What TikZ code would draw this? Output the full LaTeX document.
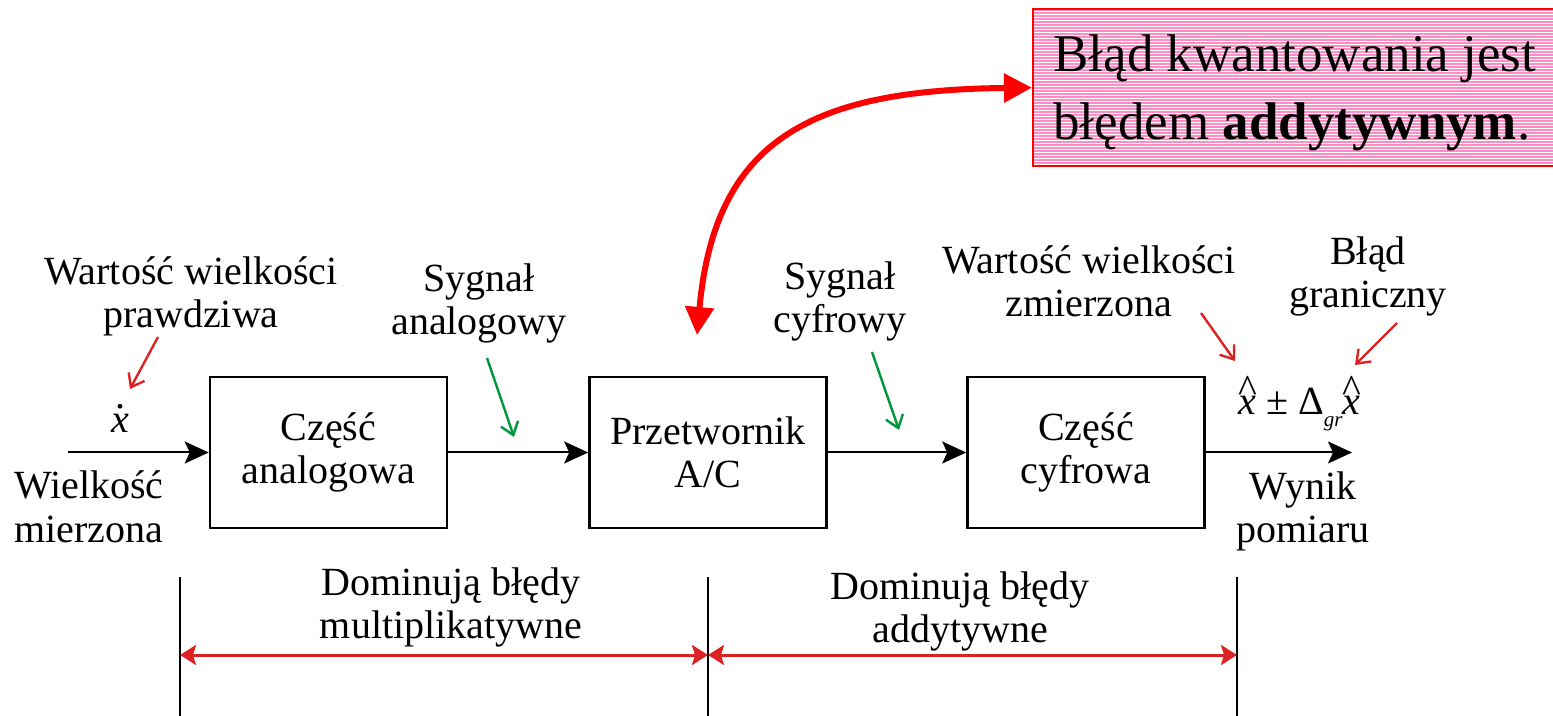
\documentclass[tikz,border=0pt]{standalone}
\usepackage{fontspec}
\setmainfont{Liberation Serif}
\usetikzlibrary{arrows.meta}
\definecolor{myred}{RGB}{220,35,35}
\definecolor{mygreen}{RGB}{0,150,60}
\definecolor{boxpink}{RGB}{255,140,195}
\newcommand\hatx{\makebox[0pt][l]{\raisebox{0.32em}{\char"5E}}\textit{x}}
\newcommand\dotx{\makebox[0pt][l]{\raisebox{0.62em}{\kern0.12em.}}\textit{x}}
\begin{document}
\begin{tikzpicture}[x=0.5pt,y=-0.5pt]
\tikzset{
 lbl/.style={font=\fontsize{20}{21.5}\selectfont, align=center, inner sep=0pt, anchor=base},
 blk/.style={draw, line width=1.3pt, minimum width=118.5pt, minimum height=75.5pt, font=\fontsize{20}{21.5}\selectfont, align=center, inner sep=0pt},
 sig/.style={line width=1pt, -{Stealth[length=12pt,width=11pt,inset=2.5pt]}},
 note/.style={line width=1.2pt, -{Straight Barb[length=6pt,width=9pt]}},
 dim/.style={myred, line width=1.5pt, {Stealth[length=8pt,width=10pt,inset=1.5pt]}-{Stealth[length=8pt,width=10pt,inset=1.5pt]}},
 big/.style={red, line width=3pt, {Triangle[length=14pt,width=14pt]}-{Triangle[length=14pt,width=14pt]}},
 vline/.style={line width=1pt}
}
\useasboundingbox (0,0) rectangle (1553,716);

% message box
\node[draw=red, line width=1.2pt, fill=boxpink, minimum width=264pt, minimum height=78.5pt, anchor=north west, inner sep=0pt,
  path picture={\foreach \k in {0,...,55}{\draw[white,line width=0.3pt] ([yshift=-\k*1.5pt-0.9pt]path picture bounding box.north west) -- ([yshift=-\k*1.5pt-0.9pt]path picture bounding box.north east);}}]
  (msgbox) at (1032,8) {};
\node[anchor=base west, align=left, inner sep=0pt, font=\fontsize{26.5}{34}\selectfont] (msg) at (1053,140)
  {Błąd kwantowania jest\\błędem \textbf{addytywnym}.};

% blocks
\node[blk] (b1) at (328.5,452.5) {Część\\analogowa};
\node[blk] (b2) at (708,452.5) {Przetwornik\\A/C};
\node[blk] (b3) at (1086,452.5) {Część\\cyfrowa};

\coordinate (in) at (68,452.5);
\coordinate (out) at (1352,452.5);
\draw[sig] (in) -- (b1.west);
\draw[sig] (b1.east) -- (b2.west);
\draw[sig] (b2.east) -- (b3.west);
\draw[sig] (b3.east) -- (out);

% labels (anchor = baseline of last line)
\node[lbl] (t1) at (191,328) {Wartość wielkości\\prawdziwa};
\node[lbl] (t2) at (89,542) {Wielkość\\mierzona};
\node[lbl] (xd) at (120,433) {\dotx};
\node[lbl] (t3) at (479,335) {Sygnał\\analogowy};
\node[lbl] (t4) at (840,333) {Sygnał\\cyfrowy};
\node[lbl] (t5) at (1089,317) {Wartość wielkości\\zmierzona};
\node[lbl] (t6) at (1368,308) {Błąd\\graniczny};
\node[lbl, anchor=base west] (frm) at (1238,415) {\hatx{} ± Δ\raisebox{-0.28em}{\fontsize{10.5}{10.5}\selectfont\itshape gr}\hatx};
\node[lbl] (t7) at (1303,543) {Wynik\\pomiaru};
\node[lbl] (t8) at (451,638) {Dominują błędy\\multiplikatywne};
\node[lbl] (t9) at (960,642) {Dominują błędy\\addytywne};

% note arrows
\coordinate (a1s) at (158,337); \coordinate (a1e) at (130,389);
\coordinate (g1s) at (487,358); \coordinate (g1e) at (514,437);
\coordinate (g2s) at (872,352); \coordinate (g2e) at (899,430);
\coordinate (a2s) at (1201,313); \coordinate (a2e) at (1235,361);
\coordinate (a3s) at (1397,323); \coordinate (a3e) at (1355,365);
\draw[note, myred] (a1s) -- (a1e);
\draw[note, mygreen] (g1s) -- (g1e);
\draw[note, mygreen] (g2s) -- (g2e);
\draw[note, myred] (a2s) -- (a2e);
\draw[note, myred] (a3s) -- (a3e);

% vertical lines and ranges
\coordinate (v1t) at (180,577); \coordinate (v1b) at (180,716);
\coordinate (v2t) at (708,577); \coordinate (v2b) at (708,716);
\coordinate (v3t) at (1237,577); \coordinate (v3b) at (1237,716);
\draw[vline] (v1t) -- (v1b);
\draw[vline] (v2t) -- (v2b);
\draw[vline] (v3t) -- (v3b);
\coordinate (d1) at (180,655); \coordinate (d2) at (708,655); \coordinate (d3) at (1237,655);
\draw[dim] (d1) -- (d2);
\draw[dim] (d2) -- (d3);

% big curved arrow
\coordinate (acend) at (697,335);
\draw[big] (msgbox.west) .. controls (810,90) and (715,140) .. (acend);
\end{tikzpicture}
\end{document}
